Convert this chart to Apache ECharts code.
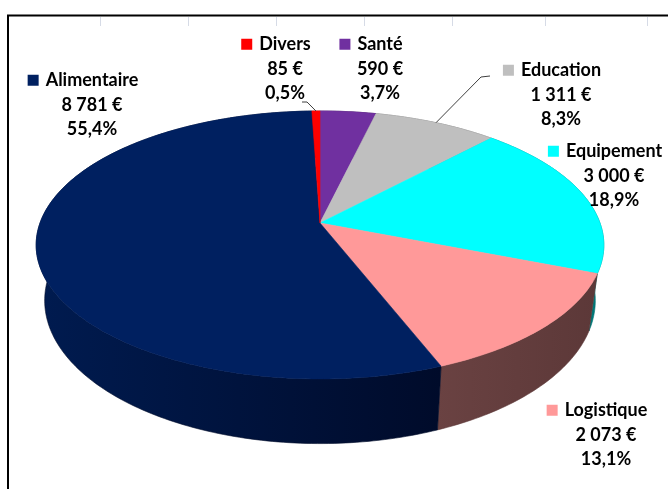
<!DOCTYPE html>
<html>
<head>
<meta charset="utf-8">
<script src="https://cdn.jsdelivr.net/npm/echarts@6/dist/echarts.min.js"></script>
<style>
html, body { margin: 0; padding: 0; background: #fff; }
#main { width: 668px; height: 489px; }
</style>
</head>
<body>
<div id="main"></div>
<script>
// 数据 (ordre des parts, sens horaire depuis midi)
var categories = ['Santé', 'Education', 'Equipement', 'Logistique', 'Alimentaire', 'Divers'];
var values = [590, 1311, 3000, 2073, 8781, 85];
var topColors = ['#7030A0', '#BFBFBF', '#00FFFF', '#FF9999', '#002060', '#FF0000'];
var sideColors = [
  ['#4a1f6b', '#3a1856'],
  ['#808080', '#6a6a6a'],
  ['#00a3a3', '#007373'],
  ['#6a4242', '#5c3838'],
  ['#001b50', '#000b2a'],
  ['#a00000', '#800000']
];

// 标签位置 (centre du texte, haut du bloc) et lignes de rappel
var labelPos = [[380, 32], [561, 58], [614, 139], [606, 398], [92, 68], [285, 32]];
var leaderFrom = [null, [[490, 76], [481, 77]], null, null, null, [[302, 102], [307, 102]]];

// 3D pie geometry
var cx = 320, cy = 223, rx = 280, ry = 130.4, persp = 0.164, depth = 54, shrink = 0.97;

var total = values.reduce(function(a, b) { return a + b; }, 0);
var starts = [], ends = [], acc = 0;
for (var i = 0; i < values.length; i++) {
  starts.push(acc / total);
  acc += values[i];
  ends.push(acc / total);
}

function fmtValue(v) {
  return String(v).replace(/\B(?=(\d{3})+(?!\d))/g, ' ') + ' €';
}
function fmtPct(v) {
  return (v / total * 100).toFixed(1).replace('.', ',') + '%';
}

function proj(frac, down) {
  var phi = Math.PI / 2 - frac * Math.PI * 2;
  var u = Math.cos(phi), v = Math.sin(phi), w = 1 + persp * v;
  var x = cx + rx * u / w, y = cy - ry * v / w;
  if (down) {
    x = cx + (x - cx) * shrink;
    y += depth / w;
  }
  return [x, y];
}

function arc(s, e, down) {
  var n = Math.max(2, Math.ceil((e - s) * 360));
  var pts = [];
  for (var k = 0; k <= n; k++) {
    pts.push(proj(s + (e - s) * k / n, down));
  }
  return pts;
}

var txt = { fill: '#000', fontFamily: 'Lato', fontWeight: 'bold', fontSize: 18, lineHeight: 24.5 };

function renderItem(params, api) {
  var i = params.dataIndex;
  var s = api.value(1), e = api.value(2);
  var topArc = arc(s, e, false);
  var botArc = arc(s, e, true).reverse();
  var children = [];

  // 侧面
  children.push({
    type: 'polygon',
    z2: 1,
    shape: { points: topArc.concat(botArc) },
    style: {
      fill: new echarts.graphic.LinearGradient(0, 0, 1, 0, [
        { offset: 0, color: sideColors[i][0] },
        { offset: 1, color: sideColors[i][1] }
      ]),
      stroke: sideColors[i][1],
      lineWidth: 0.6
    }
  });

  // 顶面
  children.push({
    type: 'polygon',
    z2: 5,
    shape: { points: [[cx, cy]].concat(topArc) },
    style: { fill: topColors[i], stroke: topColors[i], lineWidth: 0.6 }
  });

  // 引导线
  if (leaderFrom[i]) {
    var mid = proj((s + e) / 2, false);
    children.push({
      type: 'polyline',
      z2: 8,
      shape: { points: leaderFrom[i].concat([mid]) },
      style: { fill: null, stroke: '#404040', lineWidth: 1 }
    });
  }

  // 标签
  children.push({
    type: 'text',
    z2: 10,
    style: {
      x: labelPos[i][0],
      y: labelPos[i][1],
      align: 'center',
      verticalAlign: 'top',
      text: '{sq|}{g|}{n|' + categories[i] + '}{pad|}\n{v|' + fmtValue(values[i]) + '}\n{v|' + fmtPct(values[i]) + '}',
      fill: '#000',
      fontFamily: 'Lato',
      fontWeight: 'bold',
      fontSize: 18,
      lineHeight: 24.5,
      rich: {
        sq: { width: 11, height: 11, backgroundColor: topColors[i], verticalAlign: 'middle' },
        g: { width: 7 },
        pad: { width: 18 },
        n: txt,
        v: txt
      }
    }
  });

  return { type: 'group', children: children };
}

var chart = echarts.init(document.getElementById('main'), null, { renderer: 'canvas' });

var gridX = [100, 188, 276, 364, 452, 545, 647];
var graphics = gridX.map(function(x) {
  return {
    type: 'line', silent: true, z: 0,
    shape: { x1: x + 0.5, y1: 17, x2: x + 0.5, y2: 26 },
    style: { stroke: '#d6dbe6', lineWidth: 1 }
  };
});
graphics.push({
  type: 'polyline', silent: true, z: 10,
  shape: { points: [[8, 489], [8, 15.5], [668, 15.5]] },
  style: { fill: null, stroke: '#000', lineWidth: 2 }
});

chart.setOption({
  animation: false,
  backgroundColor: '#fff',
  graphic: graphics,
  series: [{
    type: 'custom',
    coordinateSystem: 'none',
    silent: true,
    data: values.map(function(v, i) { return [v, starts[i], ends[i]]; }),
    renderItem: renderItem
  }]
});
</script>
</body>
</html>
